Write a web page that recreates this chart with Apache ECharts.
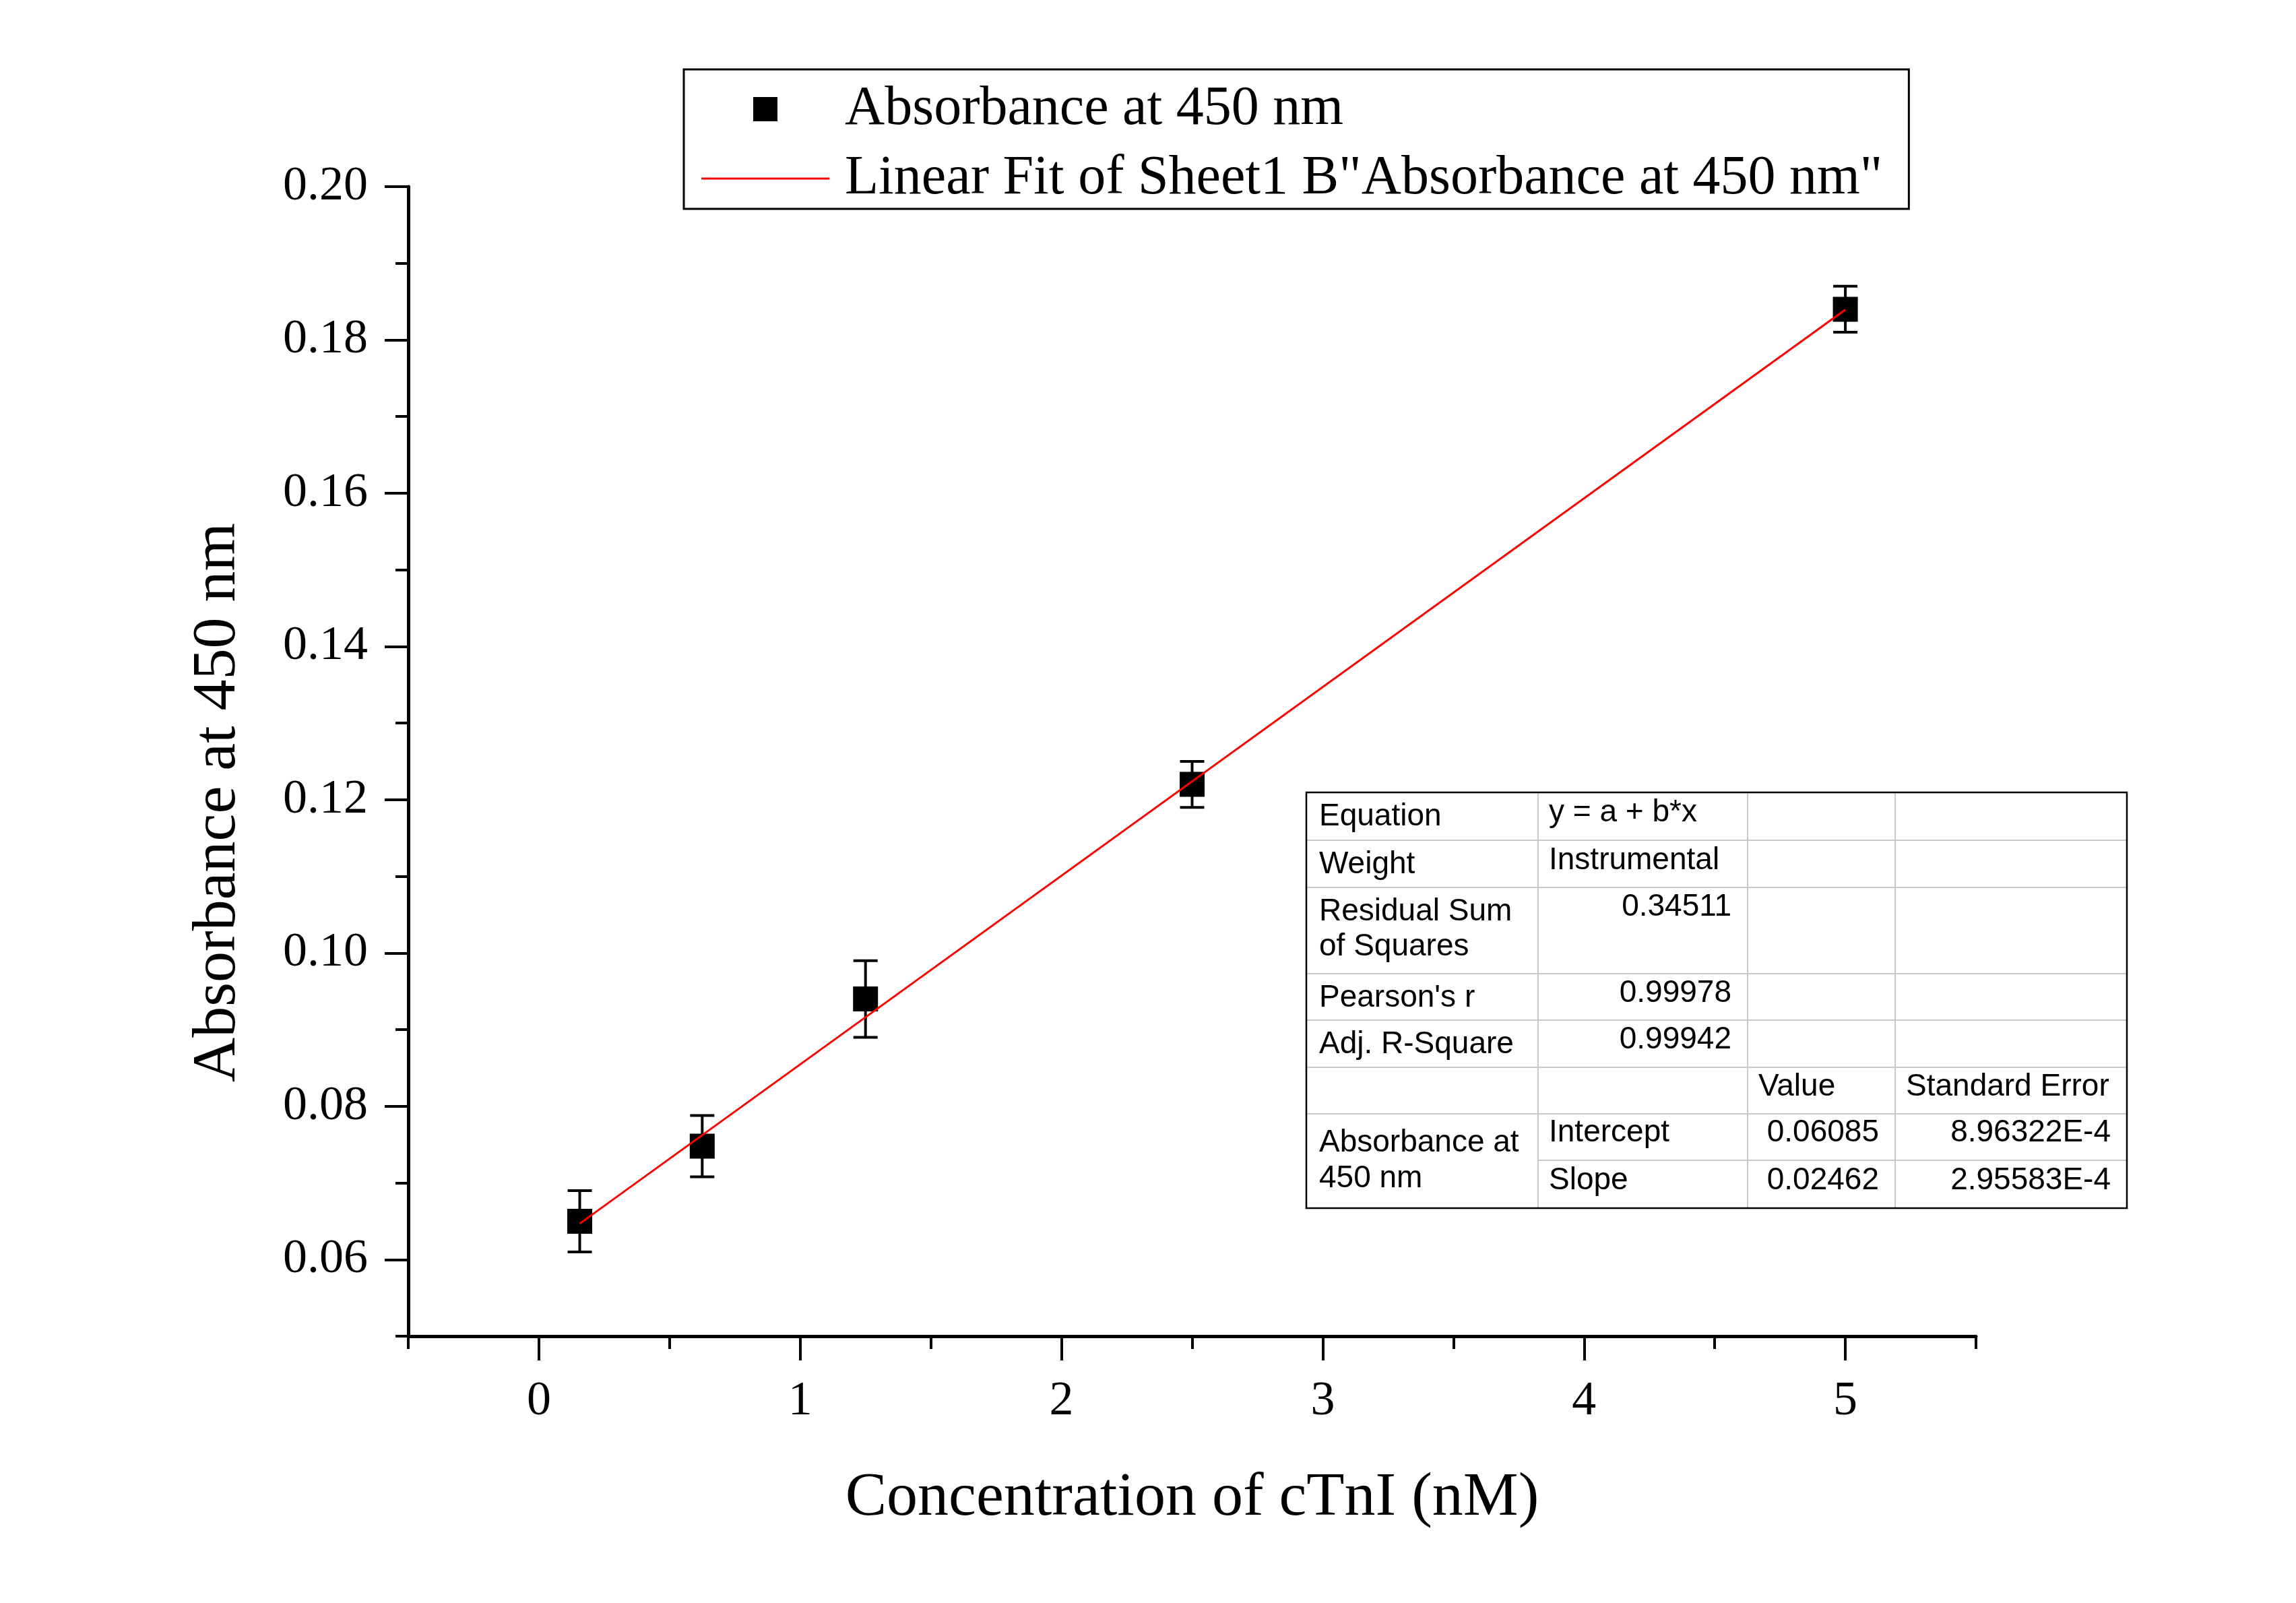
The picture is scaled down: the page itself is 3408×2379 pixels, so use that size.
<!DOCTYPE html>
<html><head><meta charset="utf-8">
<script src="https://cdn.jsdelivr.net/npm/echarts@6/dist/echarts.min.js"></script>
<style>html,body{margin:0;padding:0;background:#fff}#c{width:3408px;height:2379px}</style>
</head><body><div id="c"></div>
<script>
// ---- data ----
const concentration = [0.15625, 0.625, 1.25, 2.5, 5];
const absorbance = [0.065, 0.0748, 0.094, 0.122, 0.184];
const errorSD = [0.004, 0.004, 0.005, 0.003, 0.003];
const fitIntercept = 0.06085;
const fitSlope = 0.02462;
const xMajorTicks = [0, 1, 2, 3, 4, 5];
const xMinorTicks = [-0.5, 0.5, 1.5, 2.5, 3.5, 4.5, 5.5];
const yMajorTicks = [0.06, 0.08, 0.10, 0.12, 0.14, 0.16, 0.18, 0.20];
const yMinorTicks = [0.05, 0.07, 0.09, 0.11, 0.13, 0.15, 0.17, 0.19];
const seriesName = 'Absorbance at 450 nm';
const fitName = 'Linear Fit of Sheet1 B"Absorbance at 450 nm"';
const xTitle = 'Concentration of cTnI (nM)';
const yTitle = 'Absorbance at 450 nm';
const tableLabels = ['Equation', 'Weight', ['Residual Sum', 'of Squares'], "Pearson's r", 'Adj. R-Square'];
const tableTopValues = ['y = a + b*x', 'Instrumental', '0.34511', '0.99978', '0.99942'];
const tableHeader = ['Value', 'Standard Error'];
const tableGroup = ['Absorbance at', '450 nm'];
const tableParams = ['Intercept', 'Slope'];
const tableParamValues = ['0.06085', '0.02462'];
const tableParamErrors = ['8.96322E-4', '2.95583E-4'];

// ---- layout ----
const serif = 'Liberation Serif';
const sans = 'Liberation Sans';
const rowsY = [1176, 1247, 1317, 1445, 1514, 1584, 1653, 1722, 1793];
const colsX = [1939, 2283, 2594, 2813, 3157];
const tFont = 46;
const g = [];
function txt(x, y, s, align) {
  g.push({type: 'text', x: x, y: y, style: {text: s, fill: '#000', font: tFont + 'px ' + sans, align: align || 'left', verticalAlign: 'middle'}, z: 10});
}
function ln(x1, y1, x2, y2, c, w) {
  g.push({type: 'line', shape: {x1, y1, x2, y2}, style: {stroke: c, lineWidth: w}, z: 9});
}
for (let i = 1; i < rowsY.length - 1; i++) {
  const x0 = (i === 7) ? colsX[1] : colsX[0];
  ln(x0, rowsY[i], colsX[4], rowsY[i], '#c8c8c8', 2);
}
for (let j = 1; j < colsX.length - 1; j++) ln(colsX[j], rowsY[0], colsX[j], rowsY[8], '#c8c8c8', 2);
g.push({type: 'rect', shape: {x: colsX[0], y: rowsY[0], width: colsX[4] - colsX[0], height: rowsY[8] - rowsY[0]}, style: {fill: 'none', stroke: '#000', lineWidth: 2.5}, z: 11});
const capHalf = 12;
const padL = 19, padR = 24;
tableLabels.forEach((lab, i) => {
  const top = rowsY[i];
  if (Array.isArray(lab)) {
    txt(colsX[0] + padL, top + 48 - capHalf, lab[0]);
    txt(colsX[0] + padL, top + 100 - capHalf, lab[1]);
  } else txt(colsX[0] + padL, top + 48 - capHalf, lab);
  const v = tableTopValues[i];
  if (i < 2) txt(colsX[1] + 16, top + 42 - capHalf, v);
  else txt(colsX[2] - padR, top + 41 - capHalf, v, 'right');
});
txt(colsX[2] + 16, rowsY[5] + 41 - capHalf, tableHeader[0]);
txt(colsX[3] + 16, rowsY[5] + 41 - capHalf, tableHeader[1]);
txt(colsX[0] + padL, 1708 - capHalf, tableGroup[0]);
txt(colsX[0] + padL, 1761 - capHalf, tableGroup[1]);
tableParams.forEach((p, i) => {
  const top = rowsY[6 + i];
  const b = top + (i === 0 ? 40 : 42) - capHalf;
  txt(colsX[1] + 16, b, p);
  txt(colsX[3] - padR, b, tableParamValues[i], 'right');
  txt(colsX[4] - padR, b, tableParamErrors[i], 'right');
});

const chart = echarts.init(document.getElementById('c'), null, {renderer: 'canvas'});
const grid = {left: 606, right: 475, top: 277, bottom: 396};
const axisLineStyle = {color: '#000', width: 5};
const tickStyle = {color: '#000', width: 4};
const fitData = [concentration[0], concentration[concentration.length - 1]].map(x => [x, fitIntercept + fitSlope * x]);

chart.setOption({
  animation: false,
  backgroundColor: '#fff',
  grid: grid,
  legend: {
    data: [
      {name: seriesName, icon: 'path://M0,0H36V36H0Z', itemStyle: {color: '#000', opacity: 1}},
      {name: fitName, icon: 'path://M0,0H190V3H0Z', itemStyle: {color: '#ff0000', opacity: 1, borderWidth: 0}}
    ],
    orient: 'vertical',
    left: 1015, top: 103,
    borderColor: '#000', borderWidth: 3,
    padding: [18, 39, 4, 26],
    itemWidth: 190, itemHeight: 36, itemGap: 21,
    symbolKeepAspect: true,
    textStyle: {fontFamily: serif, fontSize: 82, color: '#000', lineHeight: 82, padding: [0, 0, 0, 18]}
  },
  xAxis: [{
    type: 'value', min: -0.5, max: 5.5, position: 'bottom',
    axisLine: {show: true, onZero: false, lineStyle: axisLineStyle},
    axisTick: {show: true, customValues: xMajorTicks, length: 36, lineStyle: tickStyle},
    axisLabel: {customValues: xMajorTicks, fontFamily: serif, fontSize: 72, color: '#000', margin: 61},
    splitLine: {show: false},
    name: xTitle, nameLocation: 'middle', nameGap: 195,
    nameTextStyle: {fontFamily: serif, fontSize: 92, color: '#000'}
  }, {
    type: 'value', min: -0.5, max: 5.5, position: 'bottom', gridIndex: 0,
    axisLine: {show: false, onZero: false},
    axisTick: {show: true, customValues: xMinorTicks, length: 19, lineStyle: tickStyle},
    axisLabel: {show: false}, splitLine: {show: false}
  }],
  yAxis: [{
    type: 'value', min: 0.05, max: 0.20, position: 'left',
    axisLine: {show: true, onZero: false, lineStyle: axisLineStyle},
    axisTick: {show: true, customValues: yMajorTicks, length: 35, lineStyle: tickStyle},
    axisLabel: {customValues: yMajorTicks, formatter: v => v.toFixed(2), fontFamily: serif, fontSize: 72, color: '#000', margin: 60},
    splitLine: {show: false},
    name: yTitle, nameLocation: 'middle', nameGap: 236,
    nameTextStyle: {fontFamily: serif, fontSize: 92, color: '#000', padding: [0, 122, 0, 0]}
  }, {
    type: 'value', min: 0.05, max: 0.20, position: 'left',
    axisLine: {show: false, onZero: false},
    axisTick: {show: true, customValues: yMinorTicks, length: 19, lineStyle: tickStyle},
    axisLabel: {show: false}, splitLine: {show: false}
  }],
  series: [{
    name: 'errorbars', type: 'custom', xAxisIndex: 0, yAxisIndex: 0,
    data: concentration.map((x, i) => [x, absorbance[i], errorSD[i]]),
    encode: {x: 0, y: 1},
    renderItem: function (params, api) {
      const x = api.value(0), y = api.value(1), e = api.value(2);
      const t = api.coord([x, y + e]), b = api.coord([x, y - e]);
      const hw = 18, st = {stroke: '#000', lineWidth: 4};
      return {type: 'group', children: [
        {type: 'line', shape: {x1: t[0], y1: t[1], x2: b[0], y2: b[1]}, style: st},
        {type: 'line', shape: {x1: t[0] - hw, y1: t[1], x2: t[0] + hw, y2: t[1]}, style: st},
        {type: 'line', shape: {x1: b[0] - hw, y1: b[1], x2: b[0] + hw, y2: b[1]}, style: st}
      ]};
    },
    z: 2
  }, {
    name: seriesName, type: 'scatter', xAxisIndex: 0, yAxisIndex: 0,
    data: concentration.map((x, i) => [x, absorbance[i]]),
    symbol: 'rect', symbolSize: 37,
    itemStyle: {color: '#000', opacity: 1},
    z: 3
  }, {
    name: fitName, type: 'line', xAxisIndex: 0, yAxisIndex: 0,
    data: fitData, symbol: 'none', showSymbol: false,
    lineStyle: {color: '#ff0000', width: 3},
    itemStyle: {color: '#ff0000'},
    z: 4
  }],
  graphic: g
});
</script></body></html>
